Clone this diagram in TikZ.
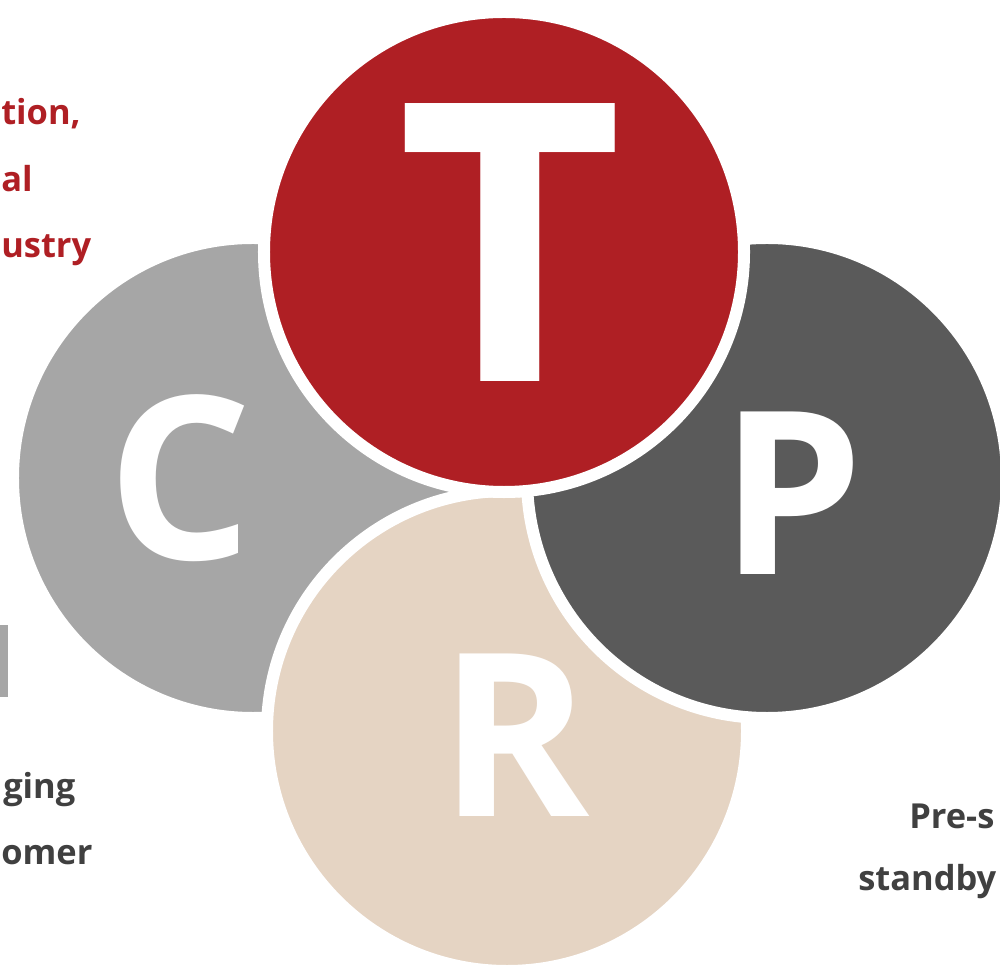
\documentclass[tikz,border=0pt]{standalone}
\usepackage{fontspec}
\setmainfont{Open Sans}
\definecolor{tred}{HTML}{AF1F24}
\definecolor{cgray}{HTML}{A6A6A6}
\definecolor{pgray}{HTML}{5A5A5A}
\definecolor{rbeige}{HTML}{E5D4C3}
\definecolor{tgray}{HTML}{404040}

\begin{document}
\begin{tikzpicture}[x=0.25mm,y=-0.25mm,
    disc/.style={circle,draw=white,line width=3mm,minimum size=120mm,inner sep=0pt},
    letter/.style={text=white,inner sep=0pt,font=\fontsize{162}{162}\selectfont\bfseries},
    bigletter/.style={letter,font=\fontsize{277}{277}\selectfont\bfseries},
    side/.style={inner sep=0pt,font=\fontsize{24.5}{30}\selectfont\bfseries}]

  \useasboundingbox (0,0) rectangle (1000,965);
  \clip (0,0) rectangle (1000,965);

  \node[side,text=tred,anchor=base west] (t1) at (1,125) {tion,};
  \node[side,text=tred,anchor=base west] (t2) at (1,192) {al};
  \node[side,text=tred,anchor=base west] (t3) at (1,258) {ustry};
  \fill[cgray] (0,625) rectangle (8,697);
  \node[side,text=tgray,anchor=base west] (c1) at (3,798) {ging};
  \node[side,text=tgray,anchor=base west] (c2) at (1,864) {omer};
  \node[side,text=tgray,anchor=base west] (p1) at (909,828) {Pre-s};
  \node[side,text=tgray,anchor=base west] (p2) at (858,890) {standby};

  \node[disc,fill=cgray] (C) at (253,478) {};
  \node[letter] (lc) at (180,478) {C};
  \node[disc,fill=rbeige] (R) at (507,731) {};
  \node[letter] (lr) at (515,735) {R};
  \node[disc,fill=pgray] (P) at (767,478) {};
  \node[letter] (lp) at (792,493) {P};
  \node[disc,fill=tred] (T) at (504,252) {};
  \node[bigletter] (lt) at (510,243) {T};

\end{tikzpicture}
\end{document}
